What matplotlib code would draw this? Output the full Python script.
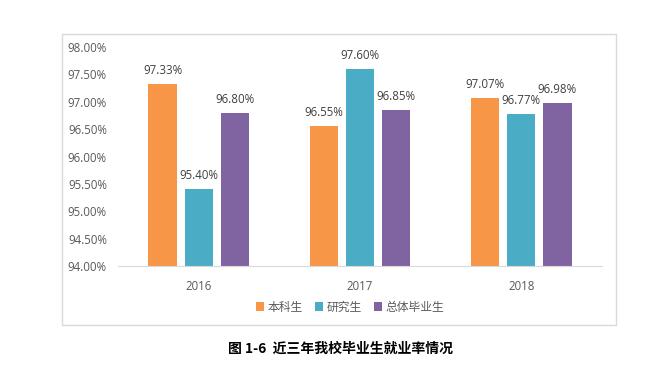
import numpy as np
import matplotlib.pyplot as plt
from matplotlib.patches import Rectangle

plt.rcParams['font.family'] = ['Open Sans', 'Noto Sans CJK SC', 'DejaVu Sans']

years = ['2016', '2017', '2018']
series = ['本科生', '研究生', '总体毕业生']
benke = [97.33, 96.55, 97.07]
yanjiu = [95.40, 97.60, 96.77]
zongti = [96.80, 96.85, 96.98]
yticks = [94.0, 94.5, 95.0, 95.5, 96.0, 96.5, 97.0, 97.5, 98.0]
colors = ['#F79646', '#4BACC6', '#8064A2']
txt = '#595959'

fig = plt.figure(figsize=(6.57, 3.72), dpi=100)

# outer frame
fig.patches.append(Rectangle((62 / 657, 1 - 325 / 372), 554 / 657, 291 / 372,
                             transform=fig.transFigure, fill=False,
                             edgecolor='#D9D9D9', linewidth=1))

ax = fig.add_axes([118 / 657, 1 - 266 / 372, 484 / 657, 219 / 372])
x = np.arange(len(years))
w = 0.174
offs = [-0.224, 0, 0.224]
for vals, name, c, o in zip([benke, yanjiu, zongti], series, colors, offs):
    bars = ax.bar(x + o, np.array(vals) - 94.0, w, bottom=94.0, color=c, label=name)
    for b, v in zip(bars, vals):
        ax.annotate(f'{v:.2f}%', (b.get_x() + b.get_width() / 2, v),
                    xytext=(0, 5), textcoords='offset points',
                    ha='center', va='bottom', fontsize=8.3, color='#404040')

ax.set_xlim(-0.5, 2.5)
ax.set_ylim(94.0, 98.0)
ax.set_yticks(yticks)
ax.set_yticklabels([f'{t:.2f}%' for t in yticks])
ax.set_xticks(x)
ax.set_xticklabels(years)
ax.tick_params(axis='both', length=0, labelsize=8.3, colors=txt)
ax.tick_params(axis='x', pad=10)
ax.tick_params(axis='y', pad=8)
for s in ['top', 'right', 'left']:
    ax.spines[s].set_visible(False)
ax.spines['bottom'].set_color('#D9D9D9')

handles, labels = ax.get_legend_handles_labels()
fig.legend(handles, labels, loc='center', bbox_to_anchor=(350 / 657, 1 - 307 / 372),
           ncol=3, frameon=False, fontsize=8.5, handlelength=0.7, handleheight=0.7,
           handletextpad=0.3, columnspacing=1.0, labelcolor=txt)

fig.text(340 / 657, 1 - 349 / 372, '图 1-6  近三年我校毕业生就业率情况', ha='center', va='center',
         fontsize=10, fontweight='bold', family=['Noto Sans CJK SC', 'DejaVu Sans'],
         color='black')

fig.savefig('out.png', dpi=100)
